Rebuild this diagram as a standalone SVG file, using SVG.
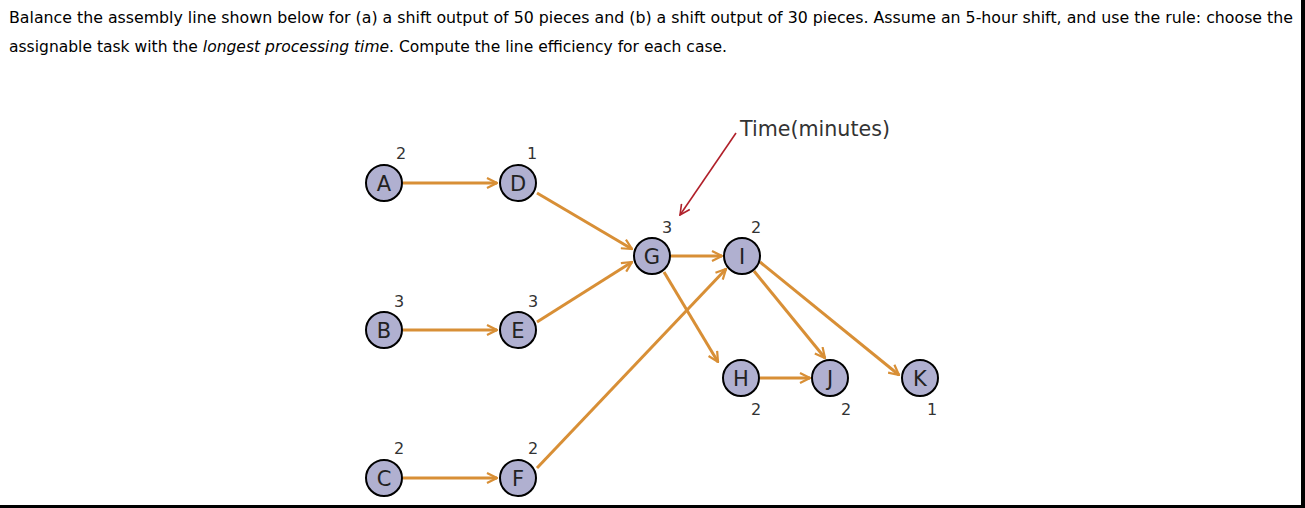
<svg xmlns="http://www.w3.org/2000/svg" width="1305" height="508" viewBox="0 0 1305 508">
<defs>
<marker id="ah" viewBox="0 0 12 12" refX="11" refY="6" markerWidth="12" markerHeight="12" markerUnits="userSpaceOnUse" orient="auto"><path d="M1,1 L11,6 L1,11" fill="none" stroke="#d88f36" stroke-width="2.2"/></marker>
<marker id="rh" viewBox="0 0 12 12" refX="11" refY="6" markerWidth="12" markerHeight="12" markerUnits="userSpaceOnUse" orient="auto"><path d="M1,1 L11,6 L1,11" fill="none" stroke="#b0202a" stroke-width="1.6"/></marker>
<style>
.q{font-family:"DejaVu Sans",Verdana,sans-serif;font-size:15px;fill:#000}
.n circle{fill:#b0b0d0;stroke:#000;stroke-width:2}
.n text{font-family:"DejaVu Sans",sans-serif;font-size:21px;fill:#222;text-anchor:middle}
.n text.t,.t{font-family:"DejaVu Sans",sans-serif;font-size:16px;fill:#333;text-anchor:middle}
.e{stroke:#d88f36;stroke-width:3;fill:none;marker-end:url(#ah)}
</style>
</defs>
<rect width="1305" height="508" fill="#fff"/>
<rect x="1301" y="0" width="4" height="508" fill="#000"/>
<rect x="0" y="505" width="1305" height="3" fill="#000"/>
<text class="q" x="9" y="23" textLength="1284" lengthAdjust="spacingAndGlyphs">Balance the assembly line shown below for (a) a shift output of 50 pieces and (b) a shift output of 30 pieces. Assume an 5-hour shift, and use the rule: choose the</text>
<text class="q" x="9" y="52" textLength="718" lengthAdjust="spacingAndGlyphs">assignable task with the <tspan font-style="italic">longest processing time</tspan>. Compute the line efficiency for each case.</text>
<g id="connectors">
<line class="e" x1="403" y1="183" x2="497" y2="183"/>
<line class="e" x1="537" y1="193" x2="632" y2="249"/>
<line class="e" x1="403" y1="330" x2="497" y2="330"/>
<line class="e" x1="537" y1="322" x2="632" y2="262"/>
<line class="e" x1="403" y1="478" x2="497" y2="478"/>
<line class="e" x1="537" y1="468" x2="726" y2="269"/>
<line class="e" x1="671" y1="256" x2="722" y2="256"/>
<line class="e" x1="664" y1="272" x2="718" y2="362"/>
<line class="e" x1="760" y1="378" x2="810" y2="378"/>
<line class="e" x1="754" y1="271" x2="825" y2="358"/>
<line class="e" x1="760" y1="262" x2="899" y2="375"/>
<line x1="736" y1="133" x2="680" y2="215" stroke="#b0202a" stroke-width="1.6" marker-end="url(#rh)"/>
</g>
<text class="t" x="815" y="136" style="font-size:21px" textLength="150" lengthAdjust="spacingAndGlyphs">Time(minutes)</text>
<g id="A" class="n"><circle cx="384" cy="183" r="18"/><text x="384" y="191">A</text><text class="t" x="401" y="159">2</text></g>
<g id="D" class="n"><circle cx="518" cy="183" r="18"/><text x="518" y="191">D</text><text class="t" x="532" y="159">1</text></g>
<g id="B" class="n"><circle cx="384" cy="330" r="18"/><text x="384" y="338">B</text><text class="t" x="399" y="307">3</text></g>
<g id="E" class="n"><circle cx="518" cy="330" r="18"/><text x="518" y="338">E</text><text class="t" x="533" y="307">3</text></g>
<g id="C" class="n"><circle cx="384" cy="478" r="18"/><text x="384" y="486">C</text><text class="t" x="399" y="454">2</text></g>
<g id="F" class="n"><circle cx="518" cy="478" r="18"/><text x="518" y="486">F</text><text class="t" x="533" y="454">2</text></g>
<g id="G" class="n"><circle cx="652" cy="256" r="18"/><text x="652" y="264">G</text><text class="t" x="667" y="233">3</text></g>
<g id="I" class="n"><circle cx="742" cy="256" r="18"/><text x="742" y="264">I</text><text class="t" x="756" y="233">2</text></g>
<g id="H" class="n"><circle cx="741" cy="378" r="18"/><text x="741" y="386">H</text><text class="t" x="756" y="415">2</text></g>
<g id="J" class="n"><circle cx="830" cy="378" r="18"/><text x="830" y="386">J</text><text class="t" x="846" y="415">2</text></g>
<g id="K" class="n"><circle cx="920" cy="378" r="18"/><text x="920" y="386">K</text><text class="t" x="932" y="415">1</text></g>
</svg>
